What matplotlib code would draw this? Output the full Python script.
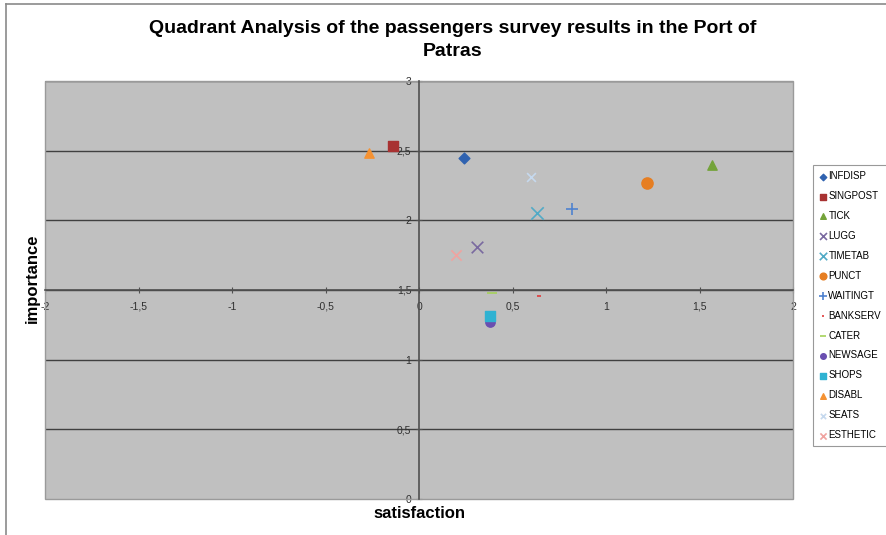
import matplotlib.pyplot as plt
from matplotlib.lines import Line2D
from matplotlib.patches import Rectangle

# survey items and their (satisfaction, importance) positions
items = ['INFDISP', 'SINGPOST', 'TICK', 'LUGG', 'TIMETAB', 'PUNCT', 'WAITINGT',
         'BANKSERV', 'CATER', 'NEWSAGE', 'SHOPS', 'DISABL', 'SEATS', 'ESTHETIC']
satisfaction = [0.24, -0.14, 1.565, 0.31, 0.63, 1.22, 0.82,
                0.64, 0.39, 0.38, 0.38, -0.27, 0.60, 0.20]
importance = [2.45, 2.53, 2.40, 1.81, 2.05, 2.27, 2.08,
              1.46, 1.48, 1.27, 1.31, 2.48, 2.31, 1.75]

markers = ['D', 's', '^', 'x', 'x', 'o', '+', '_', '_', 'o', 's', '^', 'x', 'x']
colors = ['#2f62b0', '#a83232', '#74a33a', '#7a6aa0', '#52aac6', '#e67e22', '#4f82cf',
          '#e03a3a', '#a6d25a', '#6a4fb0', '#2fb2d2', '#f59232', '#c6d9ee', '#f0a3a0']
sizes = [30, 45, 45, 70, 80, 65, 80, 12, 60, 45, 45, 45, 40, 55]

xticks = [-2, -1.5, -1, -0.5, 0, 0.5, 1, 1.5, 2]
xlabels = ['-2', '-1,5', '-1', '-0,5', '0', '0,5', '1', '1,5', '2']
yticks = [0, 0.5, 1, 1.5, 2, 2.5, 3]
ylabels = ['0', '0,5', '1', '1,5', '2', '2,5', '3']

plt.rcParams['font.family'] = ['Liberation Sans', 'DejaVu Sans']

fig = plt.figure(figsize=(8.86, 5.35), dpi=100)

# chart area border (top and left edges visible in the reference)
fig.add_artist(Line2D([6 / 886, 1], [1 - 4 / 535, 1 - 4 / 535], color='#8a8a8a', lw=1.2))
fig.add_artist(Line2D([6 / 886, 6 / 886], [0, 1 - 4 / 535], color='#8a8a8a', lw=1.2))

ax = fig.add_axes([0.0508, 0.0673, 0.8443, 0.7813])
ax.set_facecolor('#c0c0c0')

for name, x, y, m, c, s in zip(items, satisfaction, importance, markers, colors, sizes):
    lw = 1.2 if m in ('x', '+', '_') else 0
    ax.scatter(x, y, marker=m, color=c, s=s, linewidths=lw if lw else None,
               label=name, zorder=3)

ax.set_xlim(-2, 2)
ax.set_ylim(0, 3)

# horizontal gridlines
for yv in yticks[1:]:
    ax.axhline(yv, color='#404040', lw=1.0, zorder=1)

# plot area frame
ax.add_patch(Rectangle((0, 0), 1, 1, transform=ax.transAxes, fill=False,
                       edgecolor='#9a9a9a', lw=1.0, zorder=2, clip_on=False))

# axes cross in the middle
ax.spines['top'].set_visible(False)
ax.spines['right'].set_visible(False)
ax.spines['left'].set_position(('data', 0))
ax.spines['bottom'].set_position(('data', 1.5))
ax.spines['left'].set_color('#505050')
ax.spines['bottom'].set_color('#505050')
ax.spines['left'].set_linewidth(1.2)
ax.spines['bottom'].set_linewidth(1.2)

ax.set_xticks(xticks)
ax.set_xticklabels(xlabels)
ax.set_yticks(yticks)
ax.set_yticklabels(ylabels)
ax.tick_params(axis='both', direction='inout', length=5, width=0.8, colors='#505050',
               labelsize=7.5, labelcolor='#303030', pad=3)
ax.tick_params(axis='x', pad=6)

fig.text(0.511, 0.962, 'Quadrant Analysis of the passengers survey results in the Port of\nPatras',
         ha='center', va='top', fontsize=14, fontweight='bold', linespacing=1.4)
fig.text(0.036, 0.48, 'importance', rotation=90, ha='center', va='center',
         fontsize=12, fontweight='bold')
fig.text(0.473, 0.041, 'satisfaction', ha='center', va='center',
         fontsize=12, fontweight='bold')

leg = fig.legend(loc='upper left', bbox_to_anchor=(0.912, 0.70), fontsize=7,
                 frameon=True, fancybox=False, edgecolor='#808080',
                 labelspacing=1.02, handletextpad=0.1, handlelength=0.9,
                 borderpad=0.6, markerscale=0.6, scatterpoints=1)
leg.get_frame().set_linewidth(0.8)

fig.savefig('out.png', dpi=100)
